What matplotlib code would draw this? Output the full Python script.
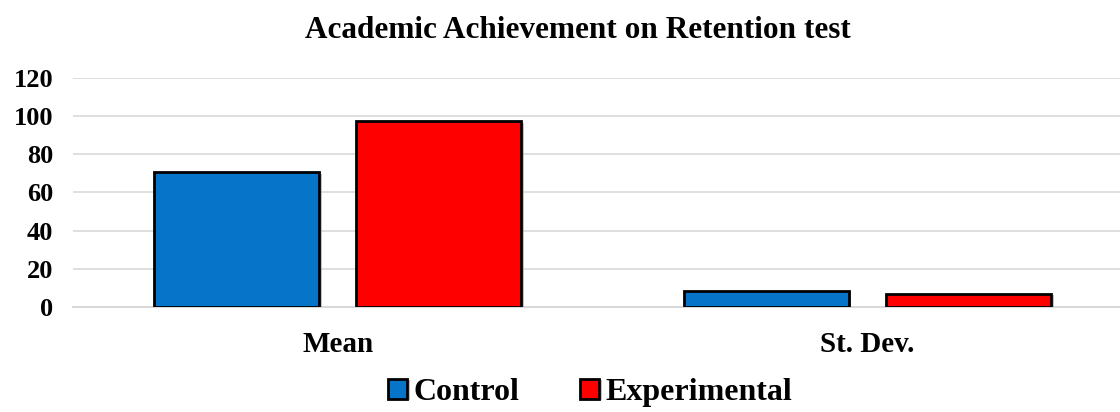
import numpy as np
import matplotlib.pyplot as plt
import matplotlib.patheffects as pe

categories = ["Mean", "St. Dev."]
control = [70.5, 8.5]
experimental = [97.2, 6.8]
series_names = ["Control", "Experimental"]
colors = ["#0674c8", "#ff0000"]

plt.rcParams['font.family'] = ['Liberation Serif', 'DejaVu Serif']
plt.rcParams['font.weight'] = 'bold'

fig = plt.figure(figsize=(11.2, 4.12), dpi=100)
ax = fig.add_axes([0.065, 0.255, 0.946, 0.556])

x = np.arange(len(categories))
w = 0.311
off = 0.191
shadow = [pe.SimplePatchShadow(offset=(2, -1), shadow_rgbFace='#999999', alpha=0.6), pe.Normal()]
b1 = ax.bar(x - off, control, w, color=colors[0], edgecolor='black', linewidth=2,
            label=series_names[0], zorder=3)
b2 = ax.bar(x + off, experimental, w, color=colors[1], edgecolor='black', linewidth=2,
            label=series_names[1], zorder=3)
for b in list(b1) + list(b2):
    b.set_path_effects(shadow)

ax.set_xlim(-0.5, 1.5)
ax.set_ylim(0, 120)
ax.set_yticks(range(0, 121, 20))
ax.set_xticks(x)
ax.set_xticklabels(categories, fontsize=21)
ax.tick_params(axis='both', length=0)
ax.tick_params(axis='y', labelsize=19, pad=14)
ax.tick_params(axis='x', pad=17)
ax.yaxis.grid(True, color='#d9d9d9', linewidth=1.2, zorder=0)
ax.set_axisbelow(True)
for s in ['top', 'right', 'left']:
    ax.spines[s].set_visible(False)
ax.spines['bottom'].set_color('#d9d9d9')
ax.spines['bottom'].set_linewidth(1.5)

fig.suptitle("Academic Achievement on Retention test", x=0.516, y=0.96,
             fontsize=22.5, fontweight='bold')
fig.legend(loc='lower center', bbox_to_anchor=(0.527, -0.058), ncol=2, frameon=False,
           fontsize=23, handlelength=0.6, handleheight=0.6, handletextpad=0.2,
           columnspacing=1.9)

fig.savefig("out.png", dpi=100)
